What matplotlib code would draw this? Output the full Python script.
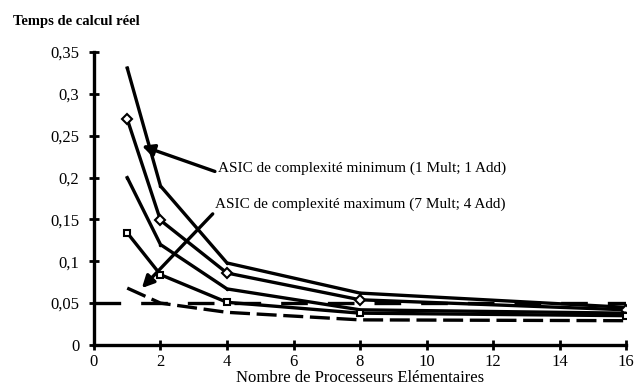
import matplotlib
matplotlib.use('Agg')
import matplotlib.pyplot as plt

# nombre de processeurs elementaires
procs = [1, 2, 4, 8, 16]

# temps de calcul reel, une courbe par ASIC
serie_a = [0.331, 0.190, 0.098, 0.062, 0.045]
serie_b = [0.270, 0.149, 0.086, 0.054, 0.042]
serie_c = [0.200, 0.120, 0.067, 0.042, 0.038]
serie_d = [0.134, 0.084, 0.051, 0.038, 0.035]
serie_e = [0.068, 0.050, 0.039, 0.030, 0.029]
ref_level = 0.05

yticks = [0, 0.05, 0.1, 0.15, 0.2, 0.25, 0.3, 0.35]
ytick_labels = ['0', '0,05', '0,1', '0,15', '0,2', '0,25', '0,3', '0,35']
xticks = [0, 2, 4, 6, 8, 10, 12, 14, 16]

plt.rcParams['font.family'] = ['Liberation Serif', 'DejaVu Serif']

fig = plt.figure(figsize=(6.35, 3.92), dpi=100)
ax = fig.add_axes([0.148, 0.12, 0.838, 0.747])

lw = 2.4
ax.plot(procs, serie_a, color='black', lw=lw, marker='.', ms=3)
ax.plot(procs, serie_b, color='black', lw=lw, marker='D', ms=5,
        mfc='white', mec='black', mew=1.5)
ax.plot(procs, serie_c, color='black', lw=lw, marker='.', ms=3)
ax.plot(procs, serie_d, color='black', lw=lw, marker='s', ms=5,
        mfc='white', mec='black', mew=1.5)
ax.plot(procs, serie_e, color='black', lw=lw, linestyle=(0, (6, 2)))
ax.plot([0, 16], [ref_level, ref_level], color='black', lw=lw,
        linestyle=(0, (8, 6)))

ax.annotate('ASIC de complexité minimum (1 Mult; 1 Add)',
            xy=(1.44, 0.238), xytext=(3.72, 0.203),
            fontsize=11, va='bottom', ha='left',
            arrowprops=dict(arrowstyle='-|>', color='black', lw=2.4,
                            mutation_scale=18, shrinkA=0, shrinkB=0,
                            relpos=(0, 0.2)))
ax.annotate('ASIC de complexité maximum (7 Mult; 4 Add)',
            xy=(1.44, 0.068), xytext=(3.65, 0.160),
            fontsize=11, va='bottom', ha='left',
            arrowprops=dict(arrowstyle='-|>', color='black', lw=2.4,
                            mutation_scale=18, shrinkA=0, shrinkB=0,
                            relpos=(0, 0.0)))

ax.set_xlim(0, 16)
ax.set_ylim(0, 0.35)
ax.set_xticks(xticks)
ax.set_yticks(yticks)
ax.set_yticklabels(ytick_labels)
ax.tick_params(direction='inout', length=7, width=2, labelsize=12, pad=3)
ax.tick_params(axis='y', pad=7)
for s in ['top', 'right']:
    ax.spines[s].set_visible(False)
for s in ['left', 'bottom']:
    ax.spines[s].set_linewidth(2.4)

ax.set_xlabel('Nombre de Processeurs Elémentaires', fontsize=12, labelpad=0)
fig.text(0.02, 0.935, 'Temps de calcul réel', fontsize=10.5, fontweight='bold')

plt.savefig('out.png', dpi=100)
